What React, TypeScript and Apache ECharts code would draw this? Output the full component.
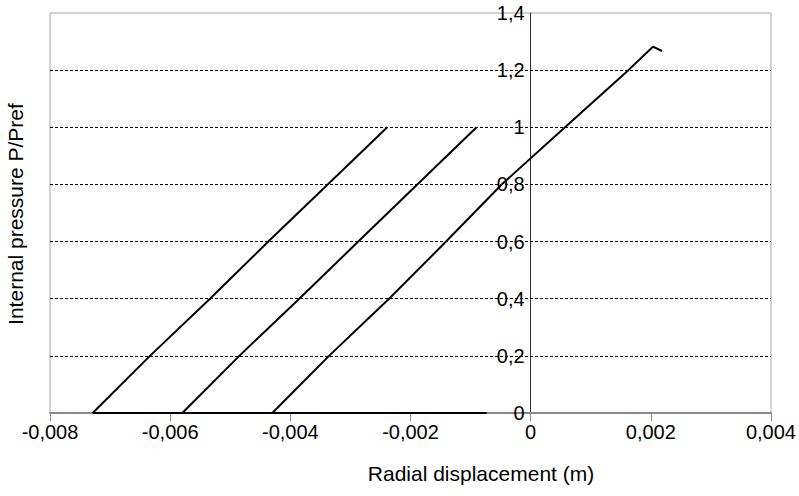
import React, { useEffect, useRef } from "react";
import * as echarts from "echarts";

const xTicks = [-0.008, -0.006, -0.004, -0.002, 0, 0.002, 0.004];
const yTicks = [0, 0.2, 0.4, 0.6, 0.8, 1, 1.2, 1.4];

const curve1: [number, number][] = [
  [-0.00729, 0], [-0.006336, 0.2], [-0.005337, 0.4], [-0.004367, 0.6], [-0.003378, 0.8], [-0.002386, 1.0],
];
const curve2: [number, number][] = [
  [-0.005798, 0], [-0.004849, 0.2], [-0.003851, 0.4], [-0.002869, 0.6], [-0.001887, 0.8], [-0.0009, 1.0],
];
const curve3: [number, number][] = [
  [-0.0043, 0], [-0.003356, 0.2], [-0.002357, 0.4], [-0.001408, 0.6], [-0.000482, 0.8],
  [0.000572, 1.0], [0.001626, 1.2], [0.002036, 1.282], [0.002186, 1.267],
];
const baseline: [number, number][] = [
  [-0.00729, 0], [-0.00073, 0],
];

const fmt = (v: number, d: number) => {
  if (Math.abs(v) < 1e-12) return "0";
  if (Math.abs(v - Math.round(v)) < 1e-9) return String(Math.round(v));
  return v.toFixed(d).replace(".", ",");
};

export default function App() {
  const ref = useRef<HTMLDivElement>(null);
  useEffect(() => {
    if (!ref.current) return;
    const chart = echarts.init(ref.current, null, { renderer: "svg" });
    const font = "'Liberation Sans', Arial, sans-serif";
    const lineStyle = { color: "#000", width: 2 };
    const mk = (name: string, data: [number, number][]) => ({
      name,
      type: "line",
      data,
      showSymbol: false,
      symbol: "none",
      lineStyle,
      z: 5,
    });
    const gridLeft = 50;
    const gridRight = 28;
    const plotW = 799 - gridLeft - gridRight;
    const zeroFrac = (0 - xTicks[0]) / (xTicks[xTicks.length - 1] - xTicks[0]);
    chart.setOption({
      animation: false,
      backgroundColor: "#fff",
      grid: {
        left: gridLeft, right: gridRight, top: 13, bottom: 83,
        show: true, borderColor: "#a6a6a6", borderWidth: 1,
      },
      xAxis: {
        type: "value",
        min: xTicks[0],
        max: xTicks[xTicks.length - 1],
        interval: 0.002,
        axisLine: { show: true, onZero: false, lineStyle: { color: "#888", width: 2 } },
        axisTick: { show: true, inside: false, length: 8, lineStyle: { color: "#888", width: 1 } },
        axisLabel: {
          color: "#000", fontSize: 20, fontFamily: font, margin: 9,
          formatter: (v: number) => fmt(v, 3),
        },
        splitLine: { show: false },
      },
      yAxis: {
        type: "value",
        min: yTicks[0],
        max: yTicks[yTicks.length - 1],
        interval: 0.2,
        offset: -plotW * zeroFrac,
        axisLine: { show: true, onZero: false, lineStyle: { color: "#333", width: 1 } },
        axisTick: { show: false },
        axisLabel: {
          color: "#000", fontSize: 20, fontFamily: font, margin: 6,
          formatter: (v: number) => fmt(v, 1),
        },
        splitLine: {
          show: true, showMinLine: false, showMaxLine: false,
          lineStyle: { color: "#000", width: 1, type: [3, 2] },
        },
      },
      series: [
        mk("base", baseline),
        mk("Cycle 1", curve1),
        mk("Cycle 2", curve2),
        mk("Cycle 3", curve3),
      ],
      graphic: [
        {
          type: "text", x: 481, y: 473,
          style: {
            text: "Radial displacement (m)", fill: "#000", fontSize: 21, fontFamily: font,
            textAlign: "center", textVerticalAlign: "middle",
          },
        },
        {
          type: "text", x: 15, y: 214, rotation: Math.PI / 2,
          style: {
            text: "Internal pressure P/Pref", fill: "#000", fontSize: 21, fontFamily: font,
            textAlign: "center", textVerticalAlign: "middle",
          },
        },
      ],
    });
    return () => chart.dispose();
  }, []);
  return <div ref={ref} style={{ width: 799, height: 496, position: "absolute", left: 0, top: 0 }} />;
}
